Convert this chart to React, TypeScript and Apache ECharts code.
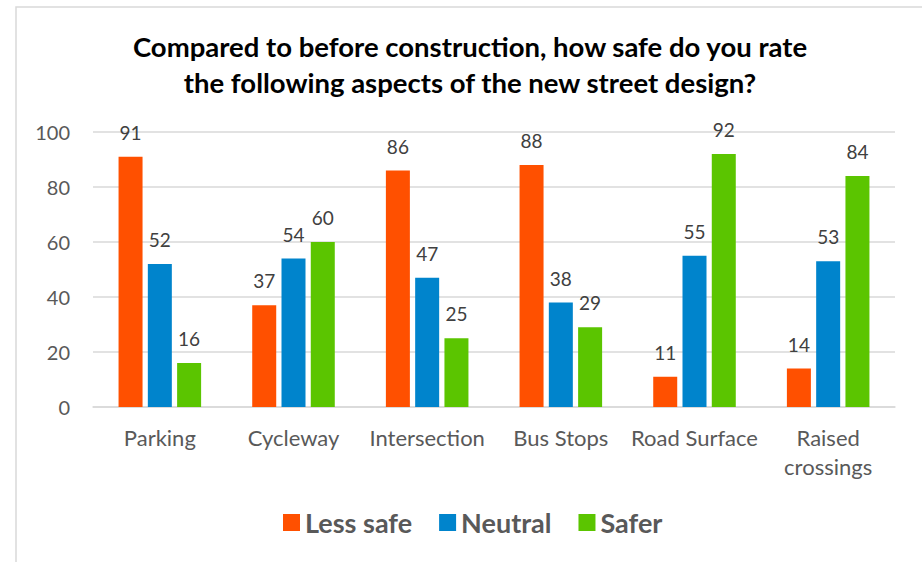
import React, { useEffect, useRef } from "react";
import * as echarts from "echarts";

const categories = ["Parking", "Cycleway", "Intersection", "Bus Stops", "Road Surface", "Raised\ncrossings"];
const lessSafe = [91, 37, 86, 88, 11, 14];
const neutral = [52, 54, 47, 38, 55, 53];
const safer = [16, 60, 25, 29, 92, 84];
const seriesNames = ["Less safe", "Neutral", "Safer"];
const colors = ["#FF5000", "#0084CC", "#5BC500"];

const FONT = "Lato, 'Open Sans', sans-serif";

export default function App() {
  const ref = useRef<HTMLDivElement>(null);
  useEffect(() => {
    if (!ref.current) return;
    const chart = echarts.init(ref.current, null, { renderer: "svg" });
    const dataSets = [lessSafe, neutral, safer];
    chart.setOption({
      animation: false,
      backgroundColor: "#ffffff",
      title: {
        text: "Compared to before construction, how safe do you rate\nthe following aspects of the new street design?",
        left: 470,
        textAlign: "center",
        top: 28,
        padding: 0,
        textStyle: {
          fontFamily: FONT,
          fontWeight: "bold",
          fontSize: 27.5,
          lineHeight: 36,
          color: "#000000",
        },
      },
      graphic: [
        {
          type: "rect",
          shape: { x: 16, y: 7, width: 940, height: 600 },
          style: { fill: "none", stroke: "#d9d9d9", lineWidth: 1.5 },
          silent: true,
          z: -1,
        },
      ],
      legend: {
        data: seriesNames,
        left: 278,
        top: 504,
        itemWidth: 17,
        itemHeight: 17,
        itemGap: 27,
        icon: "rect",
        textStyle: {
          fontFamily: FONT,
          fontWeight: "bold",
          fontSize: 27,
          color: "#595959",
        },
      },
      grid: { left: 93, right: 27, top: 132, bottom: 155 },
      xAxis: {
        type: "category",
        data: categories,
        axisLine: { lineStyle: { color: "#d9d9d9", width: 1.5 } },
        axisTick: { show: false },
        axisLabel: {
          fontFamily: FONT,
          fontSize: 22,
          color: "#595959",
          margin: 16,
          lineHeight: 29,
          interval: 0,
        },
      },
      yAxis: {
        type: "value",
        min: 0,
        max: 100,
        interval: 20,
        axisLine: { show: false },
        axisTick: { show: false },
        splitLine: { lineStyle: { color: "#d9d9d9", width: 1.5 } },
        axisLabel: {
          fontFamily: FONT,
          fontSize: 20,
          color: "#595959",
          margin: 23,
        },
      },
      series: seriesNames.map((name, i) => ({
        name,
        type: "bar",
        data: dataSets[i],
        barWidth: 24,
        barGap: "22%",
        itemStyle: { color: colors[i] },
        label: {
          show: true,
          position: "top",
          distance: 15,
          fontFamily: FONT,
          fontSize: 19,
          color: "#404040",
        },
      })),
    });
    return () => chart.dispose();
  }, []);
  return (
    <div
      ref={ref}
      style={{ position: "fixed", left: 0, top: 0, width: 922, height: 562 }}
    />
  );
}
